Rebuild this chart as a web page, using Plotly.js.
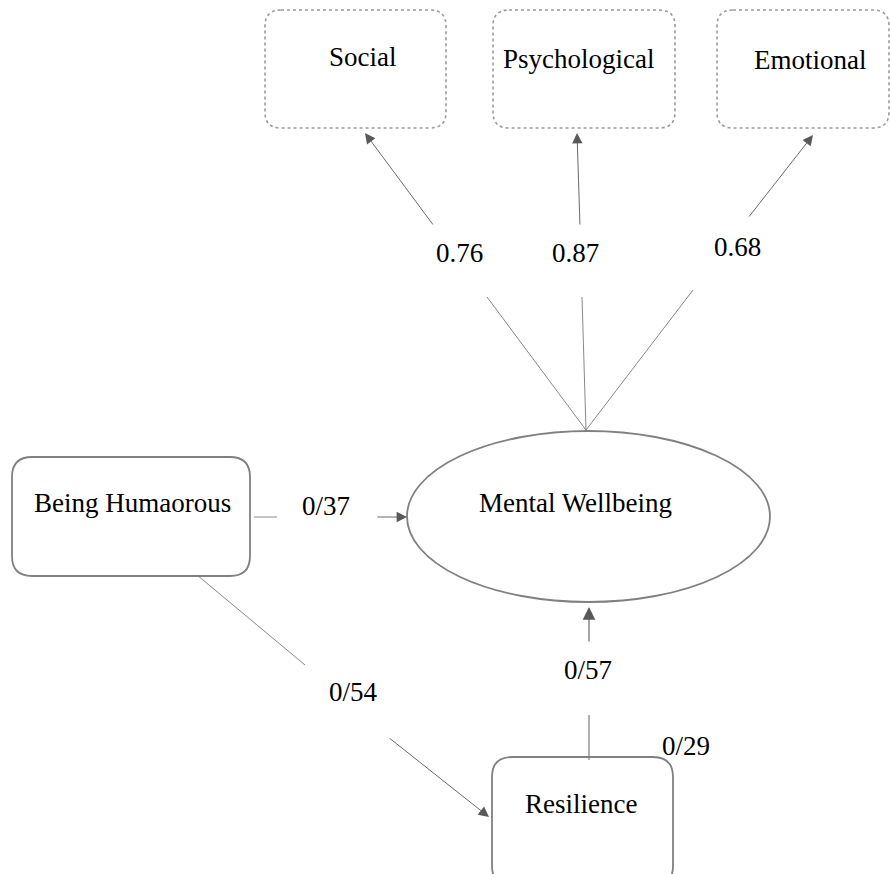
<!DOCTYPE html>
<html><head><meta charset="utf-8">
<script src="https://cdn.plot.ly/plotly-3.0.1.min.js"></script>
<style>html,body{margin:0;padding:0;background:#fff}#chart{width:890px;height:874px}</style>
</head><body><div id="chart"></div>
<script>
// ---- data ----
const indicatorLabels = ["Social", "Psychological", "Emotional"];
const loadings = ["0.76", "0.87", "0.68"];
const latentLabel = "Mental Wellbeing";
const predictorLabel = "Being Humaorous";
const mediatorLabel = "Resilience";
const pathLabels = ["0/37", "0/54", "0/57", "0/29"]; // humor->MW, humor->res, res->MW, res

// ---- geometry (layout only) ----
const indBoxes = [[265,446,10,128],[493,675,10,128],[717,889,10,128]];
const indText = [[363,57],[578,59],[810,60]];
const loadText = [[459,253],[575,253],[737,247]];
const arrowsUp = [[434,226,365,133],[580,226,577,133],[748,218,813,135]];
const apex = [586,430];
const fanEnds = [[487,297],[582,297],[693,290]];
const ell = [407,770,431,602];
const humBox = [12,250,457,576];
const resBox = [492,673,757,886];

const FONT = "Liberation Serif, Times New Roman, serif";
const LC = "#7a7a7a", HC = "#595959";

function rr(b, r){
  const [x0,x1,y0,y1] = b;
  return `M${x0+r},${y0} L${x1-r},${y0} Q${x1},${y0} ${x1},${y0+r} L${x1},${y1-r} Q${x1},${y1} ${x1-r},${y1} L${x0+r},${y1} Q${x0},${y1} ${x0},${y1-r} L${x0},${y0+r} Q${x0},${y0} ${x0+r},${y0} Z`;
}
const shapes = [];
const annotations = [];
indBoxes.forEach(b => shapes.push({type:'path', path: rr(b,16), line:{color:'#9a9a9a', width:1.6, dash:'dot'}}));
shapes.push({type:'circle', x0:ell[0], x1:ell[1], y0:ell[2], y1:ell[3], line:{color:'#808080', width:1.8}});
shapes.push({type:'path', path: rr(humBox,20), line:{color:'#808080', width:1.8}});
shapes.push({type:'path', path: rr(resBox,20), line:{color:'#808080', width:1.8}});
function seg(x0,y0,x1,y1,w){ shapes.push({type:'line', x0, y0, x1, y1, line:{color:LC, width:w||0.9}}); }
fanEnds.forEach(e => seg(apex[0],apex[1],e[0],e[1]));
seg(254,517,277,517);
seg(197,575,305,665);
seg(589,715,589,760,1.2);

function arrow(x0,y0,x1,y1,w){
  annotations.push({x:x1, y:y1, ax:x0, ay:y0, xref:'x', yref:'y', axref:'x', ayref:'y', text:'', showarrow:true,
    arrowhead:2, arrowsize:2.3, arrowwidth:w||0.9, arrowcolor:HC, standoff:0, startstandoff:0});
}
arrowsUp.forEach(a => arrow(...a));
arrow(376,517,407,517);
arrow(388,737,489,817);
arrow(589,643,589,607,1.1);

function label(t,x,y){
  annotations.push({x, y, xref:'x', yref:'y', text:t, showarrow:false, xanchor:'center', yanchor:'middle',
    font:{family:FONT, size:27, color:'#000'}});
}
indicatorLabels.forEach((t,i) => label(t, indText[i][0], indText[i][1]));
loadings.forEach((t,i) => label(t, loadText[i][0], loadText[i][1]));
label(latentLabel, 575, 503);
label(predictorLabel, 132, 503);
label(mediatorLabel, 581, 804);
label(pathLabels[0], 326, 506);
label(pathLabels[1], 353, 692);
label(pathLabels[2], 588, 670);
label(pathLabels[3], 686, 746);

const layout = {
  width:890, height:874, margin:{l:0,r:0,t:0,b:0},
  paper_bgcolor:'#fff', plot_bgcolor:'#fff', showlegend:false,
  xaxis:{range:[0,890], visible:false, fixedrange:true},
  yaxis:{range:[874,0], visible:false, fixedrange:true},
  shapes, annotations
};
Plotly.newPlot('chart', [{x:[], y:[], type:'scatter', mode:'markers', hoverinfo:'skip'}], layout, {staticPlot:true, displayModeBar:false});
</script></body></html>
